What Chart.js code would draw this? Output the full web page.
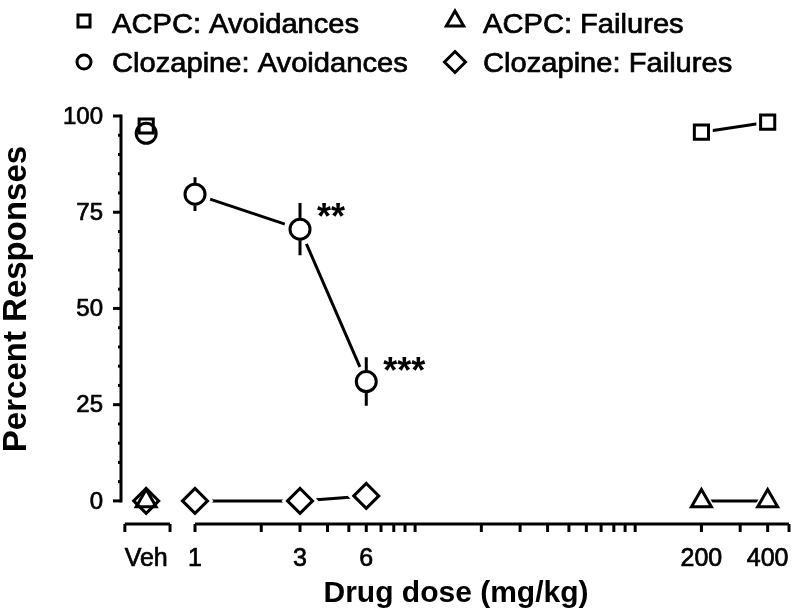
<!DOCTYPE html>
<html>
<head>
<meta charset="utf-8">
<script src="https://cdn.jsdelivr.net/npm/chart.js@4.4.0/dist/chart.umd.min.js"></script>
<style>
  body { margin: 0; background: #fff; }
  #wrap { width: 792px; height: 612px; }
</style>
</head>
<body>
<div id="wrap"><canvas id="doseChart" width="792" height="612"></canvas></div>
<script>
// Valores
const clozDoses = ['Veh', 1, 3, 6];
const clozAvoid = [95.5, 79.7, 70.6, 31.0];
const clozAvoidErr = [0, 4.4, 6.8, 6.3];
const clozFail = [0, 0, 0, 1.3];
const clozStars = ['', '', '**', '***'];

const acpcDoses = ['Veh', 200, 400];
const acpcAvoid = [97.4, 95.8, 98.4];
const acpcFail = [0, 0, 0];

const xTickLabels = ['Veh', '1', '3', '6', '200', '400'];
const yTickLabels = ['0', '25', '50', '75', '100'];

const legendItems = [
    ['ACPC: Avoidances', 'rect'],
    ['ACPC: Failures', 'triangle'],
    ['Clozapine: Avoidances', 'circle'],
    ['Clozapine: Failures', 'rectRot']
];

// El vehículo se dibuja a la izquierda del eje logarítmico (eje cortado)
const VEH_X = 0.6;
const VEH_SEG = [0.48, 0.77];
const MAIN_SEG = [1, 500];
const FONT = '"Liberation Sans", Arial, sans-serif';

const toX = d => (d === 'Veh' ? VEH_X : Number(d));

function points(doses, vals, connectedOnly) {
    return doses
        .map((d, i) => ({ x: toX(d), y: vals[i] }))
        .filter((p, i) => !connectedOnly || doses[i] !== 'Veh');
}

// línea + halo blanco (hueco alrededor del marcador) + marcador vacío
function series(doses, vals, style, radius, order) {
    return [
        {
            data: points(doses, vals, true),
            showLine: true, pointRadius: 0, clip: false,
            borderColor: '#000', borderWidth: 3, order: 10
        },
        {
            data: points(doses, vals, true),
            showLine: false, pointStyle: style, pointRadius: radius + 6, clip: false,
            pointBackgroundColor: '#fff', pointBorderColor: '#fff', pointBorderWidth: 0,
            order: 5
        },
        {
            data: points(doses, vals, false),
            showLine: false, pointStyle: style, pointRadius: radius, clip: false,
            pointBackgroundColor: 'rgba(0,0,0,0)', pointBorderColor: '#000',
            pointBorderWidth: 3, order: order
        }
    ];
}

// texto un poco más grueso, como en la figura original
function heavyText(ctx, text, x, y, sx) {
    ctx.save();
    ctx.translate(x, y);
    ctx.scale(sx || 1, 1);
    ctx.lineWidth = 0.7;
    ctx.strokeStyle = '#000';
    ctx.fillText(text, 0, 0);
    ctx.strokeText(text, 0, 0);
    ctx.restore();
}

const axesPlugin = {
    id: 'brokenAxes',
    afterDatasetsDraw(chart) {
        const { ctx, scales: { x, y }, chartArea } = chart;
        ctx.save();
        ctx.strokeStyle = '#000';
        ctx.fillStyle = '#000';
        ctx.lineWidth = 3;
        ctx.lineCap = 'butt';

        // barras de error
        clozDoses.forEach((d, i) => {
            const e = clozAvoidErr[i];
            if (!e) return;
            const px = x.getPixelForValue(toX(d));
            const pc = y.getPixelForValue(clozAvoid[i]);
            ctx.beginPath();
            ctx.moveTo(px, y.getPixelForValue(clozAvoid[i] + e));
            ctx.lineTo(px, pc - 11);
            ctx.moveTo(px, pc + 11);
            ctx.lineTo(px, y.getPixelForValue(clozAvoid[i] - e));
            ctx.stroke();
        });

        // asteriscos de significancia
        ctx.font = 'bold 36px ' + FONT;
        ctx.textAlign = 'left';
        ctx.textBaseline = 'top';
        clozDoses.forEach((d, i) => {
            if (!clozStars[i]) return;
            const px = x.getPixelForValue(toX(d)) + 17;
            const py = y.getPixelForValue(clozAvoid[i] + clozAvoidErr[i]) - 2;
            ctx.fillText(clozStars[i], px, py);
        });

        // eje Y
        const ax = chartArea.left;
        ctx.beginPath();
        ctx.moveTo(ax, y.getPixelForValue(0) + 1.5);
        ctx.lineTo(ax, y.getPixelForValue(100) - 1.5);
        ctx.stroke();
        for (let v = 0; v <= 100; v += 5) {
            const py = y.getPixelForValue(v);
            const len = v % 25 === 0 ? 8 : 3;
            ctx.beginPath();
            ctx.moveTo(ax, py);
            ctx.lineTo(ax - len, py);
            ctx.stroke();
        }
        ctx.font = '24px ' + FONT;
        ctx.textAlign = 'right';
        ctx.textBaseline = 'middle';
        yTickLabels.forEach(t => {
            heavyText(ctx, t, ax - 18, y.getPixelForValue(Number(t)) + 1);
        });

        // eje X cortado
        const by = chartArea.bottom;
        const segLine = (a, b) => {
            ctx.beginPath();
            ctx.moveTo(x.getPixelForValue(a), by);
            ctx.lineTo(x.getPixelForValue(b), by);
            ctx.stroke();
        };
        const tick = v => {
            const px = x.getPixelForValue(v);
            ctx.beginPath();
            ctx.moveTo(px, by);
            ctx.lineTo(px, by + 8);
            ctx.stroke();
        };
        segLine(VEH_SEG[0], VEH_SEG[1]);
        VEH_SEG.forEach(tick);
        segLine(MAIN_SEG[0], MAIN_SEG[1]);
        for (let dec = 1; dec <= 100; dec *= 10) {
            for (let m = 1; m <= 9; m++) {
                const v = m * dec;
                if (v <= MAIN_SEG[1]) tick(v);
            }
        }

        ctx.font = '25px ' + FONT;
        ctx.textAlign = 'center';
        ctx.textBaseline = 'alphabetic';
        xTickLabels.forEach(t => {
            heavyText(ctx, t, x.getPixelForValue(toX(t === 'Veh' ? 'Veh' : Number(t))), 566);
        });

        // títulos
        ctx.font = 'bold 30px ' + FONT;
        ctx.fillText('Drug dose (mg/kg)', 456, 602);

        ctx.save();
        ctx.translate(17, 299);
        ctx.rotate(-Math.PI / 2);
        ctx.font = 'bold 33px ' + FONT;
        ctx.textBaseline = 'middle';
        ctx.fillText('Percent Responses', 0, 0);
        ctx.restore();

        // leyenda en dos columnas
        const cols = [[84, 112], [455, 483]];
        const rows = [[21, 33], [62, 72]];
        const legendRadius = { rect: 8.5, triangle: 10, circle: 7, rectRot: 10.5 };
        ctx.font = '28px ' + FONT;
        ctx.textAlign = 'left';
        ctx.textBaseline = 'alphabetic';
        legendItems.forEach((item, k) => {
            const c = cols[k % 2];
            const r = rows[Math.floor(k / 2)];
            ctx.fillStyle = 'rgba(0,0,0,0)';
            ctx.lineWidth = 3;
            Chart.helpers.drawPoint(ctx, {
                pointStyle: item[1], radius: legendRadius[item[1]], rotation: 0, borderWidth: 3
            }, c[0], r[0]);
            ctx.fillStyle = '#000';
            heavyText(ctx, item[0], c[1], r[1], 1.04);
        });

        ctx.restore();
    }
};

new Chart(document.getElementById('doseChart'), {
    type: 'scatter',
    data: {
        datasets: [
            ...series(acpcDoses, acpcAvoid, 'rect', 10, 2),
            ...series(acpcDoses, acpcFail, 'triangle', 11.5, 2),
            ...series(clozDoses, clozAvoid, 'circle', 10, 1),
            ...series(clozDoses, clozFail, 'rectRot', 12.5, 1)
        ]
    },
    options: {
        responsive: false,
        animation: false,
        layout: { autoPadding: false, padding: { left: 121, right: 3, top: 116, bottom: 88 } },
        plugins: { legend: { display: false }, tooltip: { enabled: false } },
        scales: {
            x: { type: 'logarithmic', min: 0.461, max: 500, display: false },
            y: { min: -6, max: 100, display: false }
        }
    },
    plugins: [axesPlugin]
});
</script>
</body>
</html>
